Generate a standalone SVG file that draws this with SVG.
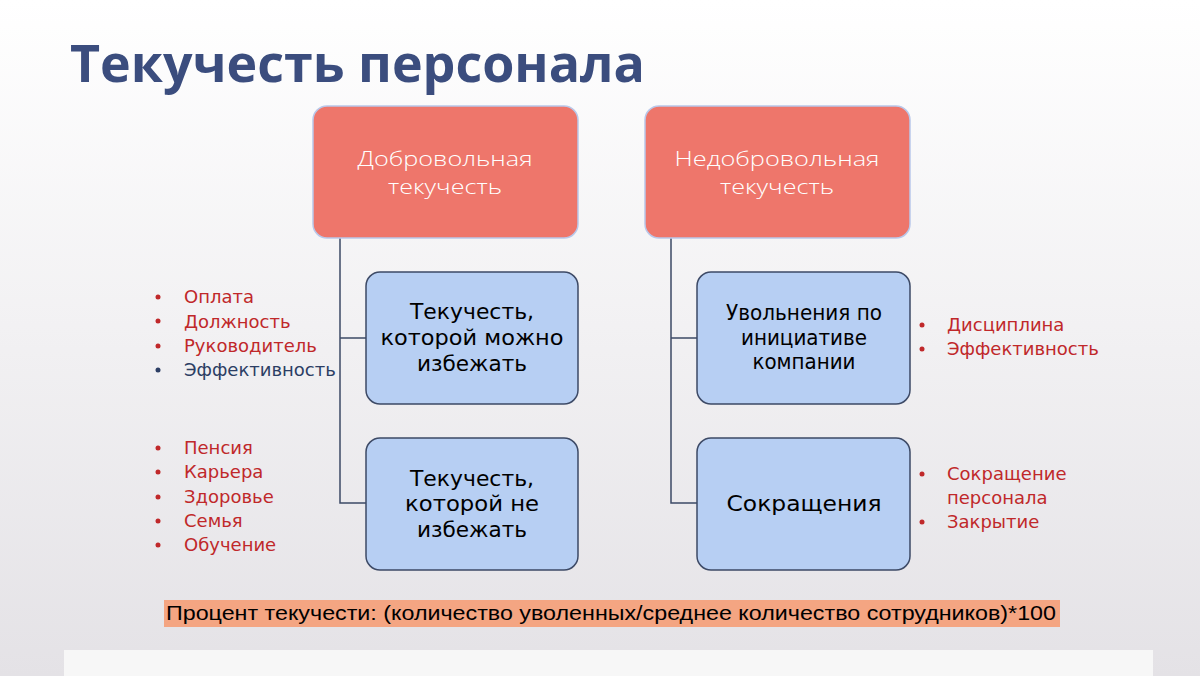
<svg xmlns="http://www.w3.org/2000/svg" width="1200" height="676" viewBox="0 0 1200 676">
<defs>
<linearGradient id="bg" x1="0" y1="0" x2="0" y2="1">
<stop offset="0" stop-color="#ffffff"/>
<stop offset="1" stop-color="#e4e2e6"/>
</linearGradient>
<style>
.top{fill:#ee766b;stroke:#b9c8ea;stroke-width:1.5}
.sub{fill:#b7cff3;stroke:#3d4a66;stroke-width:1.5}
.tt{font-family:"Open Sans","Liberation Sans",sans-serif;font-weight:300;font-size:20px;fill:#ffffff;text-anchor:middle}
.bt{font-family:"DejaVu Sans","Liberation Sans",sans-serif;font-size:22px;fill:#000000;text-anchor:middle}
.li{font-family:"DejaVu Sans","Liberation Sans",sans-serif;font-size:18px;fill:#c0282a}
.conn{fill:none;stroke:#3d4a66;stroke-width:1.5}
</style>
</defs>
<rect width="1200" height="676" fill="url(#bg)"/>
<text x="70" y="82" font-family="'Open Sans','Liberation Sans',sans-serif" font-weight="700" font-size="52" fill="#3b4d7e" textLength="575" lengthAdjust="spacingAndGlyphs">Текучесть персонала</text>

<g id="connectors">
<path class="conn" d="M340 238 V503 H366 M340 338 H366"/>
<path class="conn" d="M671 238 V503 H697 M671 338 H697"/>
</g>

<g id="voluntary">
<rect class="top" x="313" y="106" width="265" height="132" rx="14"/>
<text class="tt" x="445" y="165.5" textLength="175" lengthAdjust="spacingAndGlyphs">Добровольная</text>
<text class="tt" x="445" y="193.5" textLength="114" lengthAdjust="spacingAndGlyphs">текучесть</text>
</g>
<g id="involuntary">
<rect class="top" x="645" y="106" width="265" height="132" rx="14"/>
<text class="tt" x="777" y="165.5" textLength="205" lengthAdjust="spacingAndGlyphs">Недобровольная</text>
<text class="tt" x="777" y="193.5" textLength="114" lengthAdjust="spacingAndGlyphs">текучесть</text>
</g>

<g id="avoidable">
<rect class="sub" x="366" y="272" width="212" height="132" rx="14"/>
<text class="bt" x="472" y="319" textLength="124" lengthAdjust="spacingAndGlyphs">Текучесть,</text>
<text class="bt" x="472" y="345" textLength="183" lengthAdjust="spacingAndGlyphs">которой можно</text>
<text class="bt" x="472" y="371" textLength="110" lengthAdjust="spacingAndGlyphs">избежать</text>
</g>
<g id="unavoidable">
<rect class="sub" x="366" y="438" width="212" height="132" rx="14"/>
<text class="bt" x="472" y="486" textLength="124" lengthAdjust="spacingAndGlyphs">Текучесть,</text>
<text class="bt" x="472" y="511" textLength="134" lengthAdjust="spacingAndGlyphs">которой не</text>
<text class="bt" x="472" y="537" textLength="110" lengthAdjust="spacingAndGlyphs">избежать</text>
</g>
<g id="company">
<rect class="sub" x="697" y="272" width="213" height="132" rx="14"/>
<text class="bt" x="804" y="320" font-size="20" textLength="156" lengthAdjust="spacingAndGlyphs">Увольнения по</text>
<text class="bt" x="804" y="345" font-size="20" textLength="126" lengthAdjust="spacingAndGlyphs">инициативе</text>
<text class="bt" x="804" y="369" font-size="20" textLength="103" lengthAdjust="spacingAndGlyphs">компании</text>
</g>
<g id="reduction">
<rect class="sub" x="697" y="438" width="213" height="132" rx="14"/>
<text class="bt" x="804" y="511" textLength="155" lengthAdjust="spacingAndGlyphs">Сокращения</text>
</g>

<g id="list-avoidable">
<g fill="#c0282a"><circle cx="158" cy="297" r="2.5"/><circle cx="158" cy="321" r="2.5"/><circle cx="158" cy="346" r="2.5"/></g>
<circle cx="158" cy="370" r="2.5" fill="#2c3e64"/>
<text class="li" x="184" y="303">Оплата</text>
<text class="li" x="184" y="328">Должность</text>
<text class="li" x="184" y="352">Руководитель</text>
<text class="li" x="184" y="376" style="fill:#2c3e64">Эффективность</text>
</g>
<g id="list-unavoidable">
<g fill="#c0282a"><circle cx="158" cy="448" r="2.5"/><circle cx="158" cy="472" r="2.5"/><circle cx="158" cy="497" r="2.5"/><circle cx="158" cy="521" r="2.5"/><circle cx="158" cy="545" r="2.5"/></g>
<text class="li" x="184" y="454">Пенсия</text>
<text class="li" x="184" y="478">Карьера</text>
<text class="li" x="184" y="503">Здоровье</text>
<text class="li" x="184" y="527">Семья</text>
<text class="li" x="184" y="551">Обучение</text>
</g>
<g id="list-company">
<g fill="#c0282a"><circle cx="922" cy="325" r="2.5"/><circle cx="922" cy="349" r="2.5"/></g>
<text class="li" x="947" y="331">Дисциплина</text>
<text class="li" x="947" y="355">Эффективность</text>
</g>
<g id="list-reduction">
<g fill="#c0282a"><circle cx="922" cy="474" r="2.5"/><circle cx="922" cy="522" r="2.5"/></g>
<text class="li" x="947" y="480">Сокращение</text>
<text class="li" x="947" y="504">персонала</text>
<text class="li" x="947" y="528">Закрытие</text>
</g>

<g id="formula">
<rect x="164" y="600" width="896" height="27" fill="#f4a582"/>
<text x="166" y="620" font-family="'Liberation Sans Narrow','Liberation Sans',sans-serif" font-size="20" fill="#000000" textLength="890" lengthAdjust="spacingAndGlyphs">Процент текучести: (количество уволенных/среднее количество сотрудников)*100</text>
</g>
<rect x="64" y="650" width="1089" height="26" fill="#f7f7f7"/>
</svg>
